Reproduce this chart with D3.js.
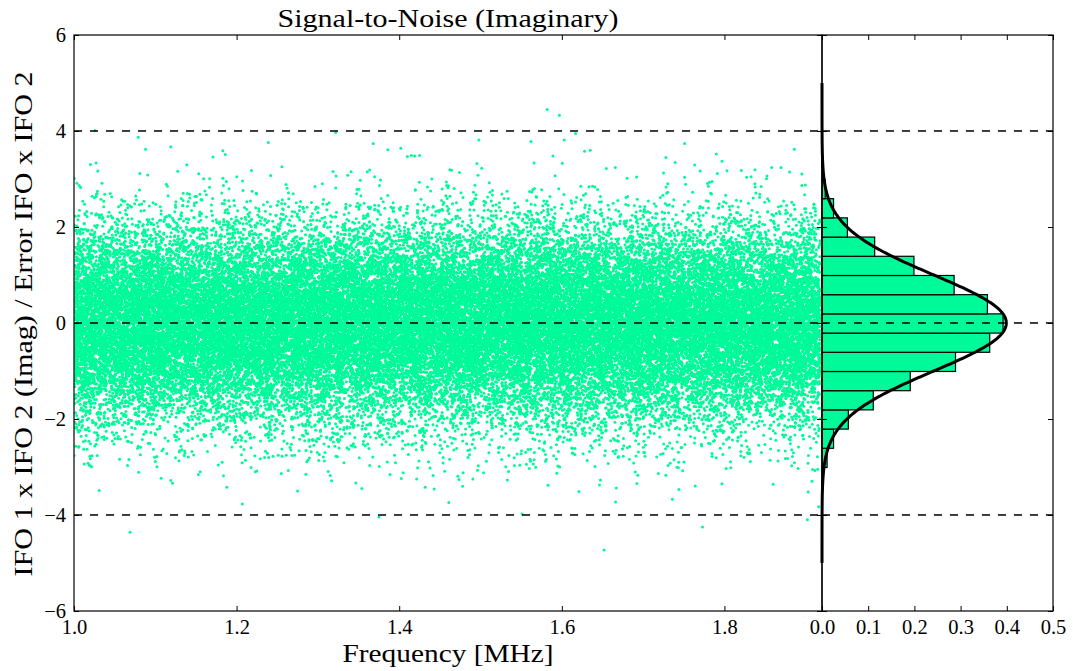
<!DOCTYPE html>
<html><head><meta charset="utf-8">
<script src="https://cdn.jsdelivr.net/npm/d3@7"></script>
<style>
body{margin:0;background:#fff}
svg text{font-family:"Liberation Serif","Times New Roman",serif;fill:#000}
</style>
</head><body>
<svg id="c" width="1073" height="671"></svg>
<script>
// ---------------- data ----------------
const freqDomain = [1.0, 1.92];          // main x axis
const freqRange = [1.0, 1.918];          // spread of the channels
const snrDomain = [-6, 6];
const densDomain = [0, 0.5];
const cloudSize = 46000;                 // approx number of channels in the cloud
const histEdges = [-3.41,-3.01,-2.61,-2.21,-1.81,-1.41,-1.01,-0.61,-0.21,0.19,0.59,0.99,1.39,1.79,2.19,2.59,2.99,3.39];
const histDensity = [0.003,0.011,0.025,0.057,0.111,0.191,0.289,0.363,0.392,0.358,0.286,0.199,0.114,0.055,0.025,0.007,0.003];
const fitMean = 0.0;
const fitSigma = 1.0;
const fitRange = [-5, 5];
const outlierFreq = [1.582,1.597,1.617,1.322,1.498,1.562,1.603,1.751,1.368,1.026,1.079,1.239,1.088,1.119,1.183,
  1.386,1.402,1.41,1.415,1.419,1.425,1.628,1.635,1.589,1.728,1.186,1.171,1.79,1.886,
  1.069,1.375,1.207,1.031,1.275,1.354,1.188,1.652,1.551,1.461,1.666,1.736,1.621,1.667,1.744,1.432,1.443,
  1.902,1.916,1.903,1.773];
const outlierSnr = [4.45,4.33,3.95,3.97,3.81,3.78,3.81,3.74,3.74,4.01,3.87,3.76,3.62,3.67,3.59,
  3.61,3.64,3.47,3.49,3.48,3.49,3.58,3.60,3.48,3.45,3.51,3.46,3.52,3.62,
  -4.36,-4.04,-3.77,-3.49,-3.5,-3.45,-3.42,-4.73,-3.98,-3.74,-3.73,-3.67,-3.51,-3.44,-3.47,-3.42,-3.46,
  -4.1,-3.83,-3.52,-4.25];
const mainXTicks = [1.0,1.2,1.4,1.6,1.8];
const histXTicks = [0.0,0.1,0.2,0.3,0.4,0.5];
const yTicks = [-6,-4,-2,0,2,4,6];
const refLines = [-4,0,4];
const titleText = "Signal-to-Noise (Imaginary)";
const xLabelText = "Frequency [MHz]";
const yLabelText = "IFO 1 x IFO 2 (Imag) / Error IFO x IFO 2";

// ---------------- layout ----------------
const M = {l:74, r:822, t:35, b:611};
const H = {l:822, r:1053};
const green = "#00FA9A";

const svg = d3.select("#c");
const x = d3.scaleLinear(freqDomain, [M.l, M.r]);
const y = d3.scaleLinear(snrDomain, [M.b, M.t]);
const hx = d3.scaleLinear(densDomain, [H.l, H.r]);

// ---------- scatter cloud: each histogram bin holds its share of the channels ----------
// (deterministic equidistributed placement inside each bin)
const points = [];
const A1 = 0.7548776662466927, A2 = 0.5698402909980532, A3 = 0.41421356237;
const frac = t => t - Math.floor(t);
histDensity.forEach((d, i) => {
  const lo = histEdges[i], hi = histEdges[i+1];
  const n = Math.round(d * (hi - lo) * cloudSize);
  const a = i > 0 ? (histDensity[i-1] + d) / 2 : d / 2;
  const b = i < histDensity.length - 1 ? (histDensity[i+1] + d) / 2 : d / 2;
  for (let j = 1; j <= n; j++) {
    const k = j + 7919 * i;
    const u = frac(k * k * A3 + k * A1);
    const vv = frac(k * A2 + frac(k * k * 0.2360679775) * 0.37);
    const t = Math.abs(b - a) < 1e-9 ? vv : (-a + Math.sqrt(a*a + vv*(b*b - a*a))) / (b - a);
    points.push([freqRange[0] + u * (freqRange[1] - freqRange[0]), lo + t * (hi - lo)]);
  }
});
outlierFreq.forEach((f, i) => points.push([f, outlierSnr[i]]));

svg.append("clipPath").attr("id","mclip").append("rect")
  .attr("x", M.l).attr("y", M.t).attr("width", M.r - M.l).attr("height", M.b - M.t);

svg.append("g").attr("clip-path","url(#mclip)").selectAll("circle").data(points).join("circle")
  .attr("cx", d => x(d[0])).attr("cy", d => y(d[1])).attr("r", 1.5).attr("fill", green);

// ---------- histogram ----------
const hg = svg.append("g");
hg.selectAll("rect").data(histDensity).join("rect")
  .attr("x", hx(0))
  .attr("y", (d,i) => y(histEdges[i+1]))
  .attr("width", d => hx(d) - hx(0))
  .attr("height", (d,i) => y(histEdges[i]) - y(histEdges[i+1]))
  .attr("fill", green).attr("stroke", "#000").attr("stroke-width", 1.2);

// ---------- dashed reference lines ----------
[[M.l, M.r],[H.l, H.r]].forEach(([a,b]) => {
  svg.append("g").selectAll("line").data(refLines).join("line")
    .attr("x1", a).attr("x2", b).attr("y1", d => y(d)).attr("y2", d => y(d))
    .attr("stroke", "#000").attr("stroke-width", 1.3).attr("stroke-dasharray", "8,8");
});

// ---------- gaussian fit ----------
const gs = d3.range(fitRange[0], fitRange[1] + 1e-9, 0.02);
const pdf = s => Math.exp(-0.5 * ((s - fitMean) / fitSigma) ** 2) / (fitSigma * Math.sqrt(2 * Math.PI));
svg.append("path").datum(gs)
  .attr("d", d3.line().x(s => hx(pdf(s))).y(s => y(s)))
  .attr("fill", "none").attr("stroke", "#000").attr("stroke-width", 3);

// ---------- axes ----------
function styleAxis(g, fs) {
  g.select(".domain").remove();
  g.selectAll(".tick line").attr("stroke", "#000").attr("stroke-width", 1);
  g.selectAll(".tick text").attr("font-size", fs).attr("font-family", '"Liberation Serif",serif').attr("fill","#000");
}
const tl = 5;
svg.append("g").attr("transform", `translate(0,${M.b})`)
  .call(d3.axisBottom(x).tickValues(mainXTicks).tickSize(-tl).tickPadding(8).tickFormat(d3.format(".1f")))
  .call(g => styleAxis(g, 20.5));
svg.append("g").attr("transform", `translate(0,${M.t})`)
  .call(d3.axisTop(x).tickValues(mainXTicks).tickSize(-tl).tickFormat(""))
  .call(g => styleAxis(g, 20));
svg.append("g").attr("transform", `translate(${M.l},0)`)
  .call(d3.axisLeft(y).tickValues(yTicks).tickSize(-tl).tickPadding(8).tickFormat(d3.format("d")))
  .call(g => styleAxis(g, 20.5));
svg.append("g").attr("transform", `translate(${M.r},0)`)
  .call(d3.axisRight(y).tickValues(yTicks).tickSize(-tl).tickFormat(""))
  .call(g => styleAxis(g, 20));
svg.append("g").attr("transform", `translate(${H.l},0)`)
  .call(d3.axisLeft(y).tickValues(yTicks).tickSize(-tl).tickFormat(""))
  .call(g => styleAxis(g, 20));
svg.append("g").attr("transform", `translate(${H.r},0)`)
  .call(d3.axisRight(y).tickValues(yTicks).tickSize(-tl).tickFormat(""))
  .call(g => styleAxis(g, 20));
svg.append("g").attr("transform", `translate(0,${M.b})`)
  .call(d3.axisBottom(hx).tickValues(histXTicks).tickSize(-tl).tickPadding(8).tickFormat(d3.format(".1f")))
  .call(g => styleAxis(g, 20.5));
svg.append("g").attr("transform", `translate(0,${M.t})`)
  .call(d3.axisTop(hx).tickValues(histXTicks).tickSize(-tl).tickFormat(""))
  .call(g => styleAxis(g, 20));

// spines
svg.append("rect").attr("x", M.l).attr("y", M.t).attr("width", M.r - M.l).attr("height", M.b - M.t)
  .attr("fill","none").attr("stroke","#000").attr("stroke-width",1.2);
svg.append("rect").attr("x", H.l).attr("y", M.t).attr("width", H.r - H.l).attr("height", M.b - M.t)
  .attr("fill","none").attr("stroke","#000").attr("stroke-width",1.2);

// ---------- labels ----------
svg.append("text").attr("x", (M.l + M.r)/2).attr("y", 27).attr("text-anchor","middle")
  .attr("font-size", 25.5).attr("textLength", 341).attr("lengthAdjust","spacingAndGlyphs").text(titleText);
svg.append("text").attr("x", (M.l + M.r)/2).attr("y", 662).attr("text-anchor","middle")
  .attr("font-size", 25.5).attr("textLength", 211).attr("lengthAdjust","spacingAndGlyphs").text(xLabelText);
svg.append("text").attr("transform", `translate(32,${(M.t + M.b)/2 + 1}) rotate(-90)`).attr("text-anchor","middle")
  .attr("font-size", 25.5).attr("textLength", 505).attr("lengthAdjust","spacingAndGlyphs").text(yLabelText);
</script>
</body></html>
